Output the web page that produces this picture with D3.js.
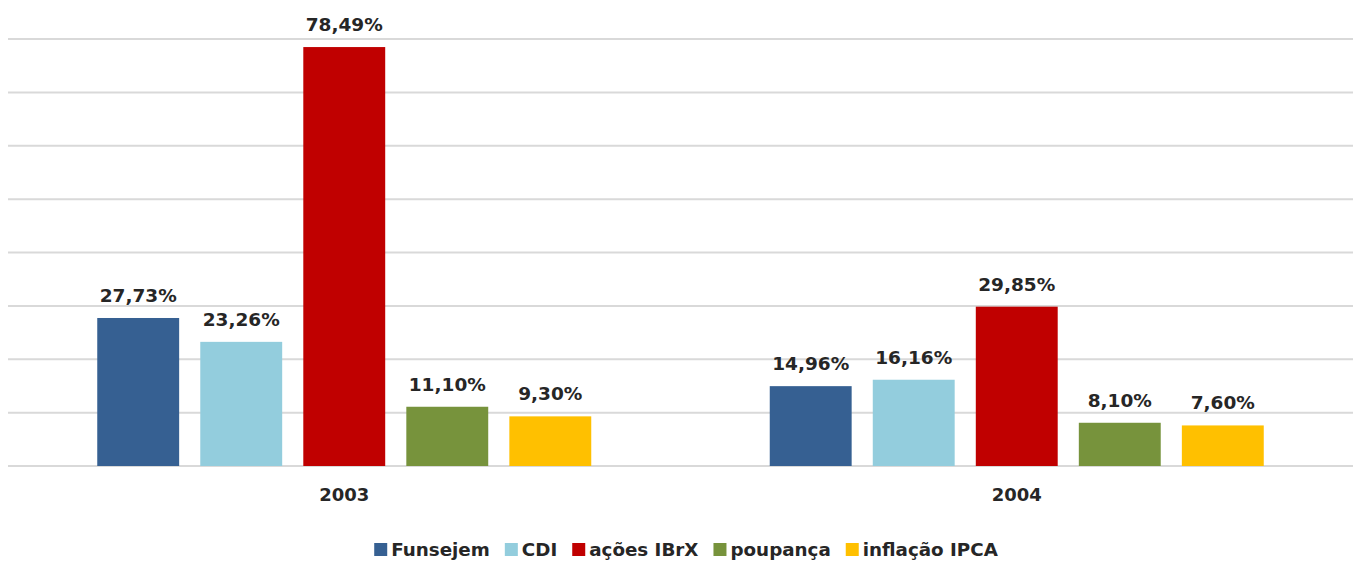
<!DOCTYPE html>
<html>
<head>
<meta charset="utf-8">
<script src="https://d3js.org/d3.v7.min.js"></script>
<style>
  * { margin: 0; padding: 0; box-sizing: border-box; }
  body { background: #fff; width: 1356px; height: 561px; overflow: hidden; font-family: 'DejaVu Sans', sans-serif; }
  svg { display: block; }
  text { font-weight: 700; fill: #262626; }
</style>
</head>
<body>
<svg id="chart" width="1356" height="561"></svg>
<script>
  const years = ["2003", "2004"];
  const seriesNames = ["Funsejem", "CDI", "ações IBrX", "poupança", "inflação IPCA"];
  const seriesColors = ["#366092", "#93CDDD", "#C00000", "#77933C", "#FFC000"];
  const values2003 = [27.73, 23.26, 78.49, 11.10, 9.30];
  const values2004 = [14.96, 16.16, 29.85, 8.10, 7.60];
  const yTicks = [0, 10, 20, 30, 40, 50, 60, 70, 80];

  const rows = [values2003, values2004];
  const plotLeft = 8, plotRight = 1353, plotTop = 39, plotBottom = 466;

  const svg = d3.select("#chart");
  const x = d3.scaleBand().domain(years).range([plotLeft, plotRight]);
  const y = d3.scaleLinear().domain([0, 80]).range([plotBottom, plotTop]);
  const inner = d3.scaleBand().domain(seriesNames)
    .range([0, 494]).paddingInner(0.205);

  svg.append("g").selectAll("line").data(yTicks).join("line")
    .attr("x1", plotLeft).attr("x2", plotRight)
    .attr("y1", d => y(d)).attr("y2", d => y(d))
    .attr("stroke", "#d9d9d9").attr("stroke-width", 2);

  const fmt = v => v.toFixed(2).replace(".", ",") + "%";

  years.forEach((yr, i) => {
    const g = svg.append("g")
      .attr("transform", `translate(${x(yr) + x.bandwidth() / 2 - 247},0)`);
    const data = rows[i].map((v, j) => ({ name: seriesNames[j], v, c: seriesColors[j] }));
    g.selectAll("rect").data(data).join("rect")
      .attr("x", d => inner(d.name))
      .attr("width", inner.bandwidth())
      .attr("y", d => y(d.v))
      .attr("height", d => y(0) - y(d.v))
      .attr("fill", d => d.c);
    g.selectAll("text.lbl").data(data).join("text")
      .attr("class", "lbl")
      .attr("x", d => inner(d.name) + inner.bandwidth() / 2)
      .attr("y", d => y(d.v) - 16)
      .attr("text-anchor", "middle")
      .attr("font-size", 18.5)
      .text(d => fmt(d.v));
  });

  svg.append("g").selectAll("text").data(years).join("text")
    .attr("x", d => x(d) + x.bandwidth() / 2)
    .attr("y", 501)
    .attr("text-anchor", "middle")
    .attr("font-size", 18)
    .text(d => d);

  // legend
  const legend = svg.append("g");
  let lx = 0;
  seriesNames.forEach((n, j) => {
    const item = legend.append("g").attr("transform", `translate(${lx},0)`);
    item.append("rect").attr("x", 0).attr("y", 543).attr("width", 13).attr("height", 13)
      .attr("fill", seriesColors[j]);
    const t = item.append("text").attr("x", 17).attr("y", 556)
      .attr("font-size", 18.3).text(n);
    lx += 17 + t.node().getComputedTextLength() + 15;
  });
  const lw = lx - 15;
  legend.attr("transform", `translate(${(1372 - lw) / 2},0)`);
</script>
</body>
</html>
